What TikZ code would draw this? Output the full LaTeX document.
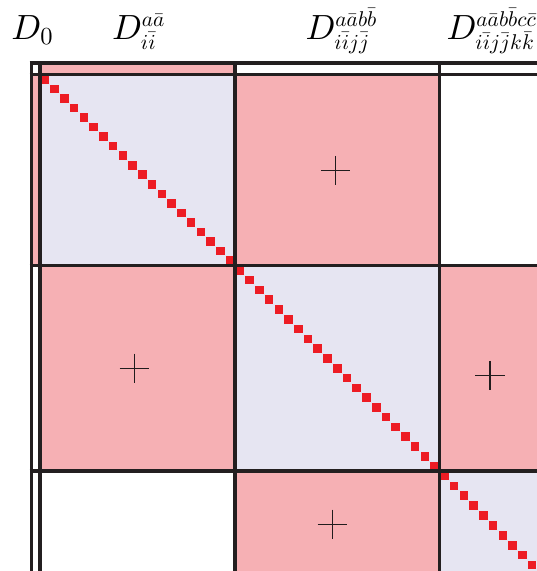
\documentclass[tikz,border=0pt]{standalone}
\usepackage{graphicx}
\definecolor{pinkc}{RGB}{246,176,180}
\definecolor{lavc}{RGB}{230,229,242}
\definecolor{redc}{RGB}{237,28,36}
\definecolor{linec}{RGB}{35,31,32}
\newcommand{\smscr}[1]{\scalebox{0.7}{$#1$}}
\newcommand{\lscr}[1]{\scalebox{0.61}{$#1$}}
\tikzset{
  lab/.style={inner sep=0pt, outer sep=0pt, scale=3.5, anchor=base west},
  gridline/.style={line width=3.8pt, draw=linec},
  dsq/.style={fill=redc},
  plusmark/.style={line width=1.4pt, draw=linec!90!black}
}
\begin{document}
\begin{tikzpicture}[x=1pt,y=-1pt]
\clip (0,0) rectangle (537,571);
\fill[white] (0,0) rectangle (537,571);
% block fills
\fill[pinkc] (40,63) rectangle (235,74.5);
\fill[pinkc] (31.5,74.5) rectangle (40,265.5);
\fill[lavc] (40,74.5) rectangle (235,265.5);
\fill[pinkc] (235,74.5) rectangle (439.5,265.5);
\fill[pinkc] (40,265.5) rectangle (235,471);
\fill[lavc] (235,265.5) rectangle (439.5,471);
\fill[pinkc] (439.5,265.5) rectangle (660,471);
\fill[pinkc] (235,471) rectangle (439.5,690);
\fill[lavc] (439.5,471) rectangle (660,690);
% diagonal squares
\foreach \i in {0,...,19}{
  \fill[dsq] ({40+(\i+0.5)*9.75-4.3},{74.5+(\i+0.5)*9.55-4.3}) rectangle ++(8.6,8.6);
}
\foreach \i in {0,...,20}{
  \fill[dsq] ({235+(\i+0.5)*9.738-4.3},{265.5+(\i+0.5)*9.786-4.3}) rectangle ++(8.6,8.6);
}
\foreach \i in {0,...,11}{
  \fill[dsq] ({439.5+(\i+0.5)*9.738-4.3},{471+(\i+0.5)*9.9-4.3}) rectangle ++(8.6,8.6);
}
% grid lines
\foreach \x in {31.5,40,235,439.5}{
  \draw[gridline] (\x,61.1) -- (\x,700);
}
\foreach \y in {63,74.5,265.5,471}{
  \draw[gridline] (29.6,\y) -- (700,\y);
}
% plus marks
\foreach \cx/\cy in {335.5/170.5, 134.2/368.3, 490/375.5, 332.3/524.3}{
  \draw[plusmark] (\cx-14.7,\cy) -- (\cx+14.7,\cy);
  \draw[plusmark] (\cx,\cy-14.7) -- (\cx,\cy+14.7);
}
% labels
\node[lab] (d0) at (11.5,39.3) {$D_{\smscr{0}}$};
\node[lab] (d1) at (112,39.3) {$D^{\lscr{a\bar{a}}}_{\lscr{i\bar{i}}}$};
\node[lab] (d2) at (305.5,39.3) {$D^{\lscr{a\bar{a}b\bar{b}}}_{\lscr{i\bar{i}j\bar{j}}}$};
\node[lab] (d3) at (446.5,39.3) {$D^{\lscr{a\bar{a}b\bar{b}c\bar{c}}}_{\lscr{i\bar{i}j\bar{j}k\bar{k}}}$};
\end{tikzpicture}
\end{document}
